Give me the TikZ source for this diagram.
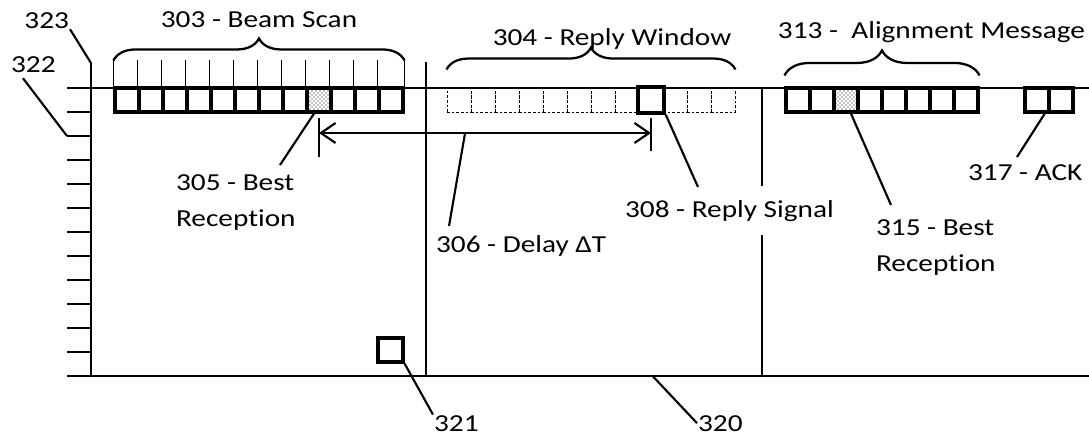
\documentclass[tikz,border=0pt]{standalone}
\usepackage{fontspec}
\setmainfont{Carlito}[FakeStretch=1.2, Ligatures=NoCommon]
\usetikzlibrary{arrows.meta, positioning, decorations.pathreplacing, patterns}

\begin{document}
\begin{tikzpicture}[x=0.75pt, y=-0.75pt, line width=1.6pt, >={Straight Barb[length=11pt, width=15pt]},
    cell/.style={draw, minimum width=18pt, minimum height=18pt, inner sep=0, line width=2.3pt},
    slot/.style={draw, dash pattern=on 2pt off 1.5pt, line width=0.7pt, minimum width=18pt, minimum height=18pt, inner sep=0},
    lbl/.style={inner sep=0, font=\fontsize{18.3}{27}\selectfont},
    scanbrace/.style={decorate, decoration={brace, amplitude=#1}, line width=1.7pt}]
    \useasboundingbox (0,0) rectangle (1089,439);

    % time axis and frame
    \coordinate (axtop) at (91,63);
    \draw (axtop) -- (91,376);
    \foreach \k in {0,...,12}
        \draw (67,{88+24*\k}) coordinate (tk\k) -- (91,{88+24*\k});
    \draw (tk0) -- (1089,88);
    \draw (tk12) -- coordinate[pos=.573] (c320) (1089,376);
    \draw (426,62) -- (426,376);

    % beam scan
    \foreach \i in {0,...,11}
        \node[cell] (bs\i) at ({127+24*\i},100) {};
    \path[pattern=crosshatch dots] (bs8.north west) rectangle (bs8.south east);
    \foreach \i in {0,...,11}
        \draw[line width=1.3pt] (bs\i.north west) -- ++(0,-26);
    \draw[line width=1.3pt] (bs11.north east) -- ++(0,-26);
    \draw[scanbrace=16.5pt] ([yshift=19.5pt]bs0.north west) -- ([yshift=19.5pt]bs11.north east);
    \node[lbl, anchor=base] (t303) at (259,27) {303 - Beam Scan};

    % reply window
    \foreach \i in {0,...,11}
        \node[slot] (rw\i) at ({459+24*\i},100) {};
    \node[cell, line width=3.2pt, minimum width=19pt, minimum height=19pt] (sig) at (rw8) {};
    \draw[scanbrace=16.5pt] ([yshift=13.5pt]rw0.north west) -- ([yshift=13.5pt]rw11.north east);
    \node[lbl, anchor=base] (t304) at (612,45) {304 - Reply Window};

    % alignment message and ack
    \foreach \i in {0,...,7}
        \node[cell] (am\i) at ({798+24*\i},100) {};
    \path[pattern=crosshatch dots] (am2.north west) rectangle (am2.south east);
    \draw[scanbrace=18.75pt] ([yshift=8.25pt]am0.north west) -- ([yshift=8.25pt]am7.north east);
    \node[lbl, anchor=base] (t313) at (931.5,38) {313 -\ \ Alignment Message};
    \foreach \i in {0,1}
        \node[cell] (ack\i) at ({1037+24*\i},100) {};

    % delay
    \coordinate (dly) at (0,133);
    \draw[<->] (bs8 |- dly) -- coordinate[pos=.44] (c306) (sig |- dly);
    \draw (bs8 |- dly) ++(0,-15) -- ++(0,39);
    \draw (sig |- dly) ++(0,-15) -- ++(0,33);

    % labels
    \node[lbl, anchor=base east] (t323) at (70,28) {323};
    \node[lbl, anchor=base west] (t322) at (10,72) {322};
    \node[lbl, anchor=base west, align=left] (t305) at (175,226) {305 - Best\\Reception};
    \node[lbl, anchor=base west] (t306) at (435,252) {306 - Delay ΔT};
    \node[lbl, anchor=base west, inner ysep=9.5pt] (t308) at (624,217) {308 - Reply Signal};
    \node[lbl, anchor=base west, align=left] (t315) at (875,271.5) {315 - Best\\Reception};
    \node[lbl, anchor=base west] (t317) at (967,180) {317 - ACK};
    \node[cell, minimum width=18.75pt, line width=2.4pt] (b321) at (390.5,350) {};
    \node[lbl, anchor=base west] (t321) at (433,431.5) {321};
    \node[lbl, anchor=base west] (t320) at (697,431) {320};

    % separator broken by the reply signal label
    \coordinate (sep) at (762,88);
    \draw (sep) -- (sep |- t308.north);
    \draw (sep |- t308.south) -- (762,376);

    % leaders
    \coordinate (e305) at (280,165);
    \coordinate (e306) at (449,226);
    \coordinate (e308) at (698,187);
    \coordinate (e315) at (891,205);
    \coordinate (e317) at (1017,157);
    \draw (t323.south east) -- (axtop);
    \draw ([shift={(13,5)}]t322.south west) -- (tk2);
    \draw (bs8.-110) -- (e305);
    \draw (c306) -- (e306);
    \draw (sig.south east) -- (e308);
    \draw (am2.-70) -- (e315);
    \draw (ack0.-60) -- (e317);
    \draw (b321.south east) -- (t321.north west);
    \draw (c320) -- (t320.west);
\end{tikzpicture}
\end{document}
